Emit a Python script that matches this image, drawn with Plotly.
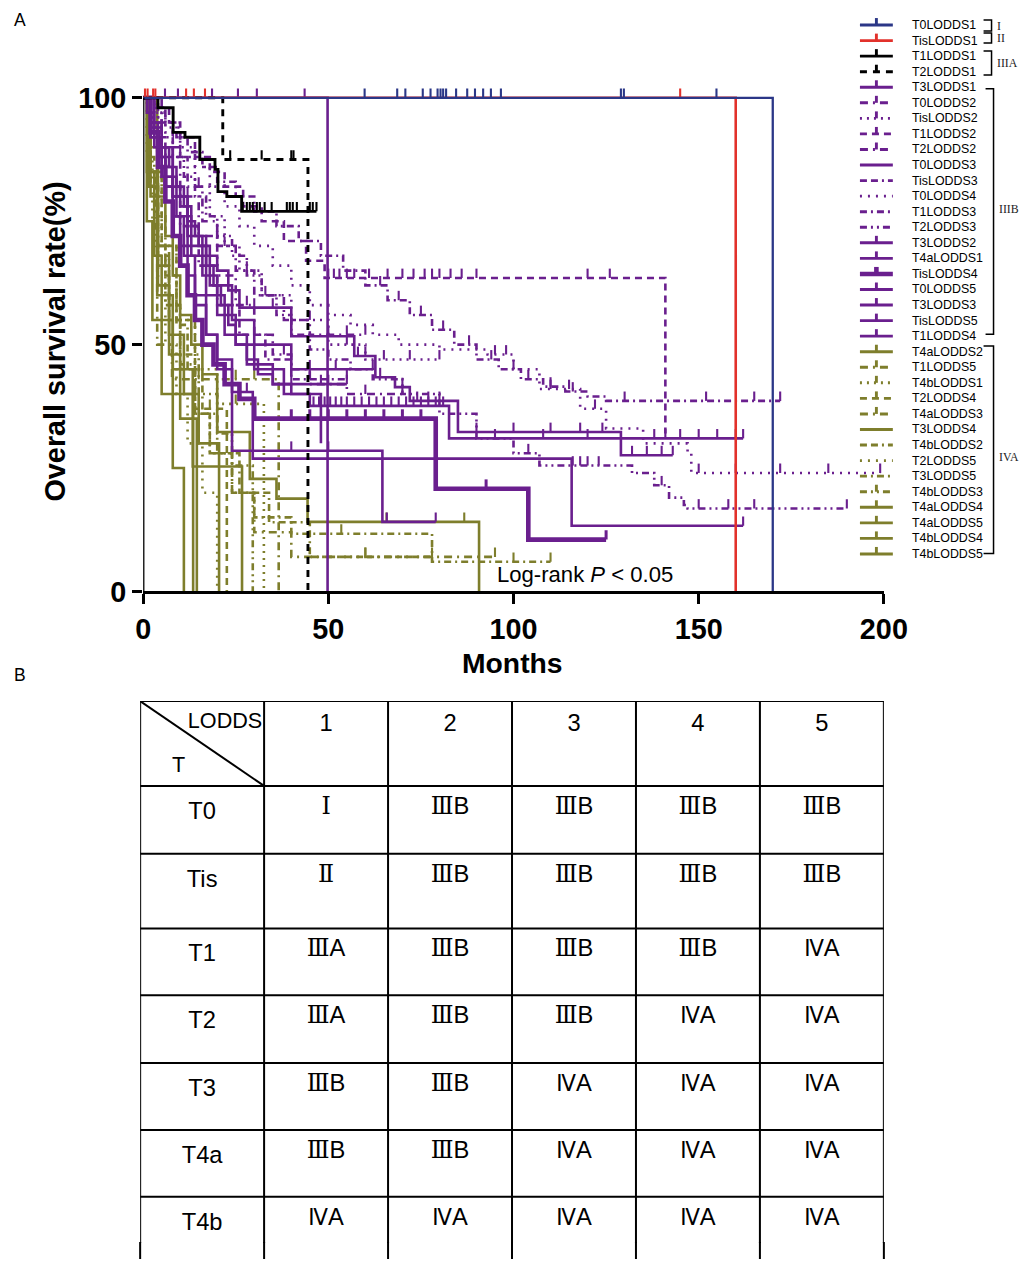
import plotly.graph_objects as go

# ---------------- data : Kaplan-Meier curves (months, survival %) ----------------
T0LODDS1_time = [170]
T0LODDS1_surv = [0]
T0LODDS1_cens = [59.8, 68.6, 70.8, 75.5, 77.6, 79.5, 80.3, 81.0, 81.8, 84.5, 87.5, 89.6, 91.8, 93.9, 96.6, 129.0, 129.8, 154.8]

TisLODDS1_time = [160]
TisLODDS1_surv = [0]
TisLODDS1_cens = [0.5, 1.2, 2.7, 3.3, 11.6, 13.7, 16.7, 145.0]

T1LODDS1_time = [4.0, 8.1, 11.3, 15.3, 19.4, 20.2, 22.6, 26.6]
T1LODDS1_surv = [98, 93, 92, 87.5, 85.5, 81, 80, 77]
T1LODDS1_cens = [26.9, 28.0, 28.8, 29.6, 30.7, 31.5, 32.8, 34.7, 38.8, 39.6, 40.4, 41.5, 45.0, 45.8, 46.8]

T2LODDS1_time = [21.5, 44.5]
T2LODDS1_surv = [87.5, 0]
T2LODDS1_cens = [23.5, 32.0, 40.0, 40.6]

T3LODDS1_time = [1, 3, 5, 7, 9, 11, 13, 15, 17, 19, 21, 23, 25, 28, 31, 35, 40, 45, 82.6]
T3LODDS1_surv = [97, 94, 90, 86, 82, 78, 74, 70, 66, 62, 58, 54, 50, 47, 44, 42, 40, 37.6, 31]
T3LODDS1_cens = [46, 47.5, 49, 50.5, 52, 53.5, 55, 57, 59, 61, 63, 65, 67, 69, 71, 73, 75, 77, 79, 81,
                 108, 120, 138, 141, 145, 150, 155, 160, 162]

T0LODDS2_time = [4, 8, 12, 16, 20, 25, 30, 38, 45]
T0LODDS2_surv = [95, 88, 82, 75, 70, 65, 60, 55, 52]
T0LODDS2_cens = [10, 22, 33, 50, 55, 60]

TisLODDS2_time = [3, 6, 10, 14, 18, 22, 26, 32, 40, 50, 60]
TisLODDS2_surv = [97, 93, 88, 82, 76, 70, 65, 60, 55, 50, 47]
TisLODDS2_cens = [15, 28, 45, 55, 65, 72, 80]

T1LODDS2_time = [3, 7, 10, 14, 18, 22, 27, 32, 38, 44, 49, 141]
T1LODDS2_surv = [98, 95, 92, 88, 85, 82, 78, 75, 71, 67, 63.5, 32]
T1LODDS2_cens = [50, 51.5, 53, 55, 57, 61, 66, 70, 73, 76, 78, 80, 83, 86, 90, 120, 126]

T2LODDS2_time = [5, 10, 15, 20, 25, 30, 35, 40, 45, 55]
T2LODDS2_surv = [90, 80, 72, 64, 58, 52, 48, 45, 42, 40]
T2LODDS2_cens = [12, 28, 38, 50, 60, 70]

T0LODDS3_time = [2, 5, 8, 12, 16, 20, 25, 30, 38, 48]
T0LODDS3_surv = [95, 88, 80, 72, 64, 56, 50, 45, 40, 30]
T0LODDS3_cens = []

TisLODDS3_time = [2, 6, 10, 15, 20, 26, 33, 40]
TisLODDS3_surv = [92, 82, 74, 66, 58, 52, 47, 43]
TisLODDS3_cens = [45, 55]

T0LODDS4_time = [3, 6, 10, 14, 18, 22, 26, 30, 35, 40, 45, 50, 56, 62, 69, 80, 93, 100, 107, 118, 125, 135, 147, 148]
T0LODDS4_surv = [97, 94, 90, 86, 82, 78, 74, 70, 66, 62, 58, 56, 54, 52, 50, 49, 48, 45, 41, 37, 33, 30, 28, 24]
T0LODDS4_cens = [95, 98, 110, 115, 122, 150, 160, 172, 185, 199]

T1LODDS3_time = [3, 6, 9, 12, 16, 20, 25, 30, 36, 42, 48, 54, 60, 66, 72, 78, 84, 90, 96, 102, 108, 114, 120, 125]
T1LODDS3_surv = [98, 95, 92, 89, 86, 83, 80, 77, 74, 71, 68, 65, 62, 59, 56, 53, 50, 47, 45, 43, 41.5, 40.5, 39.5, 38.6]
T1LODDS3_cens = [64, 69, 75, 81, 88, 94, 100, 104, 110, 116, 130, 152, 165, 172]

T2LODDS3_time = [2, 5, 8, 11, 14, 17, 20, 24, 28, 32, 36, 40, 45, 50, 56, 62, 70, 80, 90, 100, 107, 132, 138, 142, 146, 147]
T2LODDS3_surv = [96, 92, 88, 84, 80, 76, 72, 68, 64, 60, 56, 52, 49, 47, 45, 43, 40, 36, 31, 28, 25.5, 24, 21.5, 19, 17.5, 16.8]
T2LODDS3_cens = [85, 95, 104, 116, 118, 120, 123, 140, 150, 158, 165, 190]

T3LODDS2_time = [2, 4, 6, 8, 10, 12, 14, 17, 20, 23, 26, 40, 57, 62.7, 68, 72, 85, 129]
T3LODDS2_surv = [95, 90, 86, 82, 78, 75, 72, 68, 65, 61, 57.5, 51.7, 47.7, 43.4, 41.4, 38.6, 32.3, 27.6]
T3LODDS2_cens = [30, 35, 58, 60, 64, 70, 74, 77, 80, 90, 100, 110, 118, 124, 132, 136, 140, 143]

T4aLODDS1_time = [49.8]
T4aLODDS1_surv = [0]
T4aLODDS1_cens = [5.9, 9.4, 18.6, 25.6, 30.7, 43.6]

TisLODDS4_time = [2, 4, 6, 8, 10, 12, 14, 16, 19, 22, 26, 30, 79, 104]
TisLODDS4_surv = [93, 86, 79, 72, 66, 60, 55, 50, 46, 42, 39, 35, 20.8, 10.5]
TisLODDS4_cens = [40, 45, 50, 55, 60, 65, 70, 75, 92.6, 125]

T0LODDS5_time = [2, 4, 6, 8, 10, 12, 14, 17, 20, 24, 29.6, 115.7]
T0LODDS5_surv = [94, 88, 82, 76, 70, 64, 58, 52, 47, 40.4, 26.9, 13.3]
T0LODDS5_cens = [26, 28, 162]

T3LODDS3_time = [2, 5, 8, 11, 14, 17, 20, 24, 64.6]
T3LODDS3_surv = [92, 84, 76, 68, 60, 52, 45, 28.5, 14.1]
T3LODDS3_cens = [40, 50, 65.8, 79]

TisLODDS5_time = [3, 8, 12, 18, 24, 30, 40]
TisLODDS5_surv = [90, 80, 70, 62, 55, 50, 45]
TisLODDS5_cens = [45, 52, 62]

T1LODDS4_time = [2, 5, 9, 13, 17, 22, 28, 35]
T1LODDS4_surv = [92, 84, 76, 68, 60, 52, 46, 42]
T1LODDS4_cens = [40, 48, 55]

T4aLODDS2_time = [2, 4, 6, 8, 10, 13, 16, 20, 28.8, 36, 44.4, 90.7]
T4aLODDS2_surv = [90, 80, 72, 64, 56, 50, 44, 32.3, 22.8, 18.8, 14.1, 0]
T4aLODDS2_cens = [65.7, 86.7]

T1LODDS5_time = [3.8, 7.8, 36.6]
T1LODDS5_surv = [50, 43, 0]
T1LODDS5_cens = [15, 25, 30]

T4bLODDS1_time = [2, 5, 9, 14, 20, 32.6]
T4bLODDS1_surv = [85, 70, 55, 45, 38, 0]
T4bLODDS1_cens = [25]

T2LODDS4_time = [2, 5, 9, 14, 22.6]
T2LODDS4_surv = [85, 70, 55, 37, 0]
T2LODDS4_cens = [18]

T4aLODDS3_time = [2, 4, 7, 10, 14, 18, 24, 30, 40]
T4aLODDS3_surv = [85, 70, 58, 46, 36, 28, 20, 12, 7]
T4aLODDS3_cens = [60, 95]

T3LODDS4_time = [3.8, 8, 13.4, 26.7]
T3LODDS4_surv = [60, 45, 25.3, 0]
T3LODDS4_cens = []

T4bLODDS2_time = [1.5, 3, 6, 9, 12, 16, 20, 26, 34, 45]
T4bLODDS2_surv = [88, 76, 64, 54, 45, 36, 28, 20, 14, 7]
T4bLODDS2_cens = [60, 78]

T2LODDS5_time = [1, 2.5, 4, 6, 9, 12, 16, 20]
T2LODDS5_surv = [88, 75, 62, 50, 40, 30, 20, 0]
T2LODDS5_cens = []

T3LODDS5_time = [2, 4, 7, 10, 14, 18, 24, 30, 40, 78]
T3LODDS5_surv = [82, 68, 55, 45, 36, 28, 20, 15, 11.7, 6]
T3LODDS5_cens = [53.5, 100, 110]

T4bLODDS3_time = [1.5, 3.5, 6, 10, 15, 20, 24, 29.6]
T4bLODDS3_surv = [85, 70, 58, 48, 40, 32, 25.5, 0]
T4bLODDS3_cens = []

T4aLODDS4_time = [1, 3, 5, 8, 13.5]
T4aLODDS4_surv = [85, 68, 55, 40, 0]
T4aLODDS4_cens = []

T4aLODDS5_time = [2, 4, 7, 10, 14.5]
T4aLODDS5_surv = [80, 62, 48, 35, 0]
T4aLODDS5_cens = []

T4bLODDS4_time = [1.5, 4, 7, 11, 15, 20.5]
T4bLODDS4_surv = [82, 66, 52, 40, 30, 0]
T4bLODDS4_cens = []

T4bLODDS5_time = [1, 2.5, 5, 8, 11]
T4bLODDS5_surv = [75, 55, 40, 25, 0]
T4bLODDS5_cens = []

lodds_cols = ["1", "2", "3", "4", "5"]
t_rows = ["T0", "Tis", "T1", "T2", "T3", "T4a", "T4b"]
stage_table = [
    ["Ⅰ", "ⅢB", "ⅢB", "ⅢB", "ⅢB"],
    ["Ⅱ", "ⅢB", "ⅢB", "ⅢB", "ⅢB"],
    ["ⅢA", "ⅢB", "ⅢB", "ⅢB", "ⅣA"],
    ["ⅢA", "ⅢB", "ⅢB", "ⅣA", "ⅣA"],
    ["ⅢB", "ⅢB", "ⅣA", "ⅣA", "ⅣA"],
    ["ⅢB", "ⅢB", "ⅣA", "ⅣA", "ⅣA"],
    ["ⅣA", "ⅣA", "ⅣA", "ⅣA", "ⅣA"],
]

NAVY, RED, BLACK, PURPLE, OLIVE = "#2B3787", "#E2312B", "#000000", "#6A1F8E", "#7E7E2C"
D_LDOT = "8px,5px,2px,5px"
D_DOT = "2px,5px"
D_DASH = "7px,5px"
D_DDD = "7px,4px,7px,4px,2px,4px"
D_DOT2 = "2px,6px"
D_DD = "7px,4px,2px,4px"
D_D2 = "7px,4px,2px,4px,2px,4px"

g = globals()
series = [
    ("T0LODDS1", NAVY, "solid", 2.3, True),
    ("TisLODDS1", RED, "solid", 2.6, True),
    ("T1LODDS1", BLACK, "solid", 2.9, True),
    ("T2LODDS1", BLACK, "7px,6px", 2.9, True),
    ("T3LODDS1", PURPLE, "solid", 2.6, True),
    ("T0LODDS2", PURPLE, D_LDOT, 2.6, True),
    ("TisLODDS2", PURPLE, D_DOT, 2.6, True),
    ("T1LODDS2", PURPLE, D_DASH, 2.6, True),
    ("T2LODDS2", PURPLE, D_LDOT, 2.6, True),
    ("T0LODDS3", PURPLE, "solid", 2.6, False),
    ("TisLODDS3", PURPLE, D_DDD, 2.6, False),
    ("T0LODDS4", PURPLE, D_DOT2, 2.6, False),
    ("T1LODDS3", PURPLE, D_DD, 2.6, False),
    ("T2LODDS3", PURPLE, D_D2, 2.6, False),
    ("T3LODDS2", PURPLE, "solid", 2.6, True),
    ("T4aLODDS1", PURPLE, "solid", 2.6, True),
    ("TisLODDS4", PURPLE, "solid", 4.6, True),
    ("T0LODDS5", PURPLE, "solid", 2.6, True),
    ("T3LODDS3", PURPLE, "solid", 2.6, True),
    ("TisLODDS5", PURPLE, "solid", 2.6, True),
    ("T1LODDS4", PURPLE, "solid", 2.6, True),
    ("T4aLODDS2", OLIVE, "solid", 2.6, True),
    ("T1LODDS5", OLIVE, D_LDOT, 2.6, True),
    ("T4bLODDS1", OLIVE, D_DOT, 2.6, True),
    ("T2LODDS4", OLIVE, D_DASH, 2.6, True),
    ("T4aLODDS3", OLIVE, D_LDOT, 2.6, True),
    ("T3LODDS4", OLIVE, "solid", 2.6, False),
    ("T4bLODDS2", OLIVE, D_DDD, 2.6, False),
    ("T2LODDS5", OLIVE, D_DOT2, 2.6, False),
    ("T3LODDS5", OLIVE, D_DD, 2.6, False),
    ("T4bLODDS3", OLIVE, D_D2, 2.6, True),
    ("T4aLODDS4", OLIVE, "solid", 2.6, True),
    ("T4aLODDS5", OLIVE, "solid", 2.6, True),
    ("T4bLODDS4", OLIVE, "solid", 2.6, True),
    ("T4bLODDS5", OLIVE, "solid", 2.6, True),
]

# Figure placed inside the page's default 8px body margin.
# Target (picture) pixel -> page pixel, measured from a calibration render.
OFF = 8
W, H = 1033 - 2 * OFF, 1267 - 2 * OFF
SX, CX, SY = 0.9715, 7.7, 0.99
def px(x):
    return ((x - CX) / SX - OFF) / W
def py(y):
    return 1 - (y / SY - OFF) / H
def fs(s):
    return round(s / SX, 1)

fig = go.Figure()

def level_at(times, surv, t):
    lvl = 100
    for ti, si in zip(times, surv):
        if ti <= t:
            lvl = si
    return lvl

TICK_H = 1.9
for name, color, dash, width, _ in reversed(series):
    times = g[name + "_time"]
    surv = g[name + "_surv"]
    cens = g[name + "_cens"]
    end = max([times[-1]] + list(cens))
    xs = [0] + list(times) + [end]
    ys = [100] + list(surv) + [surv[-1]]
    fig.add_trace(go.Scatter(x=xs, y=ys, mode="lines", line=dict(color=color, width=width, dash=dash, shape="hv"),
                             name=name, showlegend=False, hoverinfo="skip"))
    if cens:
        cx, cy = [], []
        for c in cens:
            lv = level_at(times, surv, c)
            cx += [c, c, None]
            cy += [lv, lv + TICK_H, None]
        fig.add_trace(go.Scatter(x=cx, y=cy, mode="lines", line=dict(color=color, width=2.1 if width < 4 else 3),
                                 showlegend=False, hoverinfo="skip", cliponaxis=False))

# ---------------- table (panel B) ----------------
TABLE_TOP, TABLE_L, TABLE_R = 703, 140, 886
table_bottom = SY * (H + OFF) - TABLE_TOP   # visible height of table in picture pixels
row_edges = [0, 85, 153, 228, 295, 363, 430, 497, 564]
col_centers = [i + 0.5 for i in range(1, 6)]
lab_y = [row_edges[i + 1] + 27 for i in range(len(t_rows))]
val_y = [row_edges[i + 1] + 22 for i in range(len(t_rows))]

def fmt_stage(v):
    out = ""
    for ch in v:
        if ch in ("Ⅰ", "Ⅱ", "Ⅲ"):
            out += '<span style="font-family:DejaVu Serif">' + ch + "</span>"
        elif ch == "Ⅳ":
            out += '<span style="font-family:DejaVu Sans Condensed">' + ch + "</span>"
        else:
            out += ch
    return out

SANS = "Liberation Sans, Arial"
fig.add_trace(go.Scatter(x=col_centers, y=[24] * 5, text=lodds_cols, mode="text", xaxis="x2", yaxis="y2",
                         textfont=dict(family=SANS, size=fs(23), color="black"),
                         showlegend=False, hoverinfo="skip", cliponaxis=False))
fig.add_trace(go.Scatter(x=[0.5] * len(t_rows), y=lab_y, text=t_rows, mode="text", xaxis="x2", yaxis="y2",
                         textfont=dict(family=SANS, size=fs(23), color="black"),
                         showlegend=False, hoverinfo="skip", cliponaxis=False))
vx, vy, vt = [], [], []
for r, row in enumerate(stage_table):
    for c, v in enumerate(row):
        vx.append(col_centers[c]); vy.append(val_y[r]); vt.append(fmt_stage(v))
fig.add_trace(go.Scatter(x=vx, y=vy, text=vt, mode="text", xaxis="x2", yaxis="y2",
                         textfont=dict(family=SANS, size=fs(23), color="black"),
                         showlegend=False, hoverinfo="skip", cliponaxis=False))
fig.add_trace(go.Scatter(x=[0.985], y=[22], text=["LODDS"], mode="text", textposition="middle left", xaxis="x2", yaxis="y2",
                         textfont=dict(family=SANS, size=fs(21), color="black"),
                         showlegend=False, hoverinfo="skip", cliponaxis=False))
fig.add_trace(go.Scatter(x=[0.31], y=[66], text=["T"], mode="text", xaxis="x2", yaxis="y2",
                         textfont=dict(family=SANS, size=fs(21), color="black"),
                         showlegend=False, hoverinfo="skip", cliponaxis=False))

shapes = []
shapes.append(dict(type="line", xref="x", yref="y", x0=0, x1=0, y0=0, y1=100, line=dict(color="black", width=2.6)))
for i in range(7):
    shapes.append(dict(type="line", xref="x2", yref="y2", x0=i, x1=i, y0=0, y1=table_bottom, line=dict(color="black", width=2)))
    xe = TABLE_L + i * (TABLE_R - TABLE_L) / 6
    shapes.append(dict(type="line", xref="paper", yref="paper", x0=px(xe), x1=px(xe),
                       y0=py(TABLE_TOP + table_bottom - 1), y1=py(1267), line=dict(color="black", width=2)))
for e in row_edges[:-1]:
    shapes.append(dict(type="line", xref="x2", yref="y2", x0=0, x1=6, y0=e, y1=e, line=dict(color="black", width=2)))
shapes.append(dict(type="line", xref="x2", yref="y2", x0=0, x1=1, y0=0, y1=85, line=dict(color="black", width=2)))

annotations = []
leg_y = [25 + i * 15.6 for i in range(len(series))]
for (name, color, dash, width, tick), yy in zip(series, leg_y):
    lw = 4.6 if width > 4 else 2.9
    shapes.append(dict(type="line", xref="paper", yref="paper", x0=px(862), x1=px(895), y0=py(yy), y1=py(yy),
                       line=dict(color=color, width=lw, dash=dash)))
    if tick:
        shapes.append(dict(type="line", xref="paper", yref="paper", x0=px(878.5), x1=px(878.5), y0=py(yy), y1=py(yy - 7),
                           line=dict(color=color, width=lw)))
    annotations.append(dict(x=px(912), y=py(yy), xref="paper", yref="paper", text=name, showarrow=False,
                            xanchor="left", yanchor="middle",
                            font=dict(family=SANS, size=fs(12), color="black")))

# stage brackets (kept inside the visible right edge)
brackets = [
    ((986, 994, 20, 31), "I", 25.5),
    ((986, 994, 33, 43), "II", 38),
    ((986, 994, 51, 75), "IIIA", 63),
    ((988, 996, 89, 335), "IIIB", 209),
    ((986, 996, 347, 555), "IVA", 458),
]
for (xa, xb, ya, yb), lab, ly in brackets:
    path = "M %f,%f L %f,%f L %f,%f L %f,%f" % (px(xa), py(ya), px(xb), py(ya), px(xb), py(yb), px(xa), py(yb))
    shapes.append(dict(type="path", xref="paper", yref="paper", path=path, line=dict(color="black", width=1.5)))
    annotations.append(dict(x=px(xb + 3), y=py(ly), xref="paper", yref="paper", text=lab, showarrow=False,
                            xanchor="left", yanchor="middle",
                            font=dict(family="Liberation Serif, Times New Roman", size=fs(11.5), color="#222222")))

annotations += [
    dict(x=px(11), y=py(20), xref="paper", yref="paper", text="A", showarrow=False, xanchor="left", yanchor="middle",
         font=dict(family=SANS, size=fs(17), color="black")),
    dict(x=px(11), y=py(677), xref="paper", yref="paper", text="B", showarrow=False, xanchor="left", yanchor="middle",
         font=dict(family=SANS, size=fs(17), color="black")),
    dict(x=px(496), y=py(576), xref="paper", yref="paper", text="Log-rank <i>P</i> &lt; 0.05", showarrow=False,
         xanchor="left", yanchor="middle", font=dict(family=SANS, size=fs(21.5), color="black")),
    dict(x=px(513), y=py(665), xref="paper", yref="paper", text="<b>Months</b>", showarrow=False,
         xanchor="center", yanchor="middle", font=dict(family=SANS, size=fs(27.5), color="black")),
    dict(x=px(55), y=py(342), xref="paper", yref="paper", text="<b>Overall survival rate(%)</b>", showarrow=False,
         xanchor="center", yanchor="middle", textangle=-90, font=dict(family=SANS, size=fs(28), color="black")),
]

tickfont = dict(family=SANS, size=fs(28), color="black", weight="bold")
fig.update_layout(
    width=W, height=H, margin=dict(l=0, r=0, t=0, b=0, pad=0),
    paper_bgcolor="white", plot_bgcolor="white", showlegend=False,
    xaxis=dict(domain=[px(143), px(886)], range=[0, 200], tickvals=[0, 50, 100, 150, 200],
               ticks="outside", ticklen=10, tickwidth=2.6, tickcolor="black", showline=True, linewidth=2.6,
               linecolor="black", showgrid=False, zeroline=False, tickfont=tickfont, anchor="y", fixedrange=True),
    yaxis=dict(domain=[py(593), py(593 - 104 * 4.95)], range=[0, 104], tickvals=[0, 50, 100],
               ticks="outside", ticklen=10, tickwidth=2.6, tickcolor="black", showline=False,
               showgrid=False, zeroline=False, tickfont=tickfont, anchor="x", fixedrange=True),
    xaxis2=dict(domain=[px(TABLE_L), px(TABLE_R)], range=[0, 6], visible=False, anchor="y2", fixedrange=True),
    yaxis2=dict(domain=[0, py(TABLE_TOP)], range=[table_bottom, 0], visible=False, anchor="x2", fixedrange=True),
    shapes=shapes, annotations=annotations,
)

fig.write_html("out.html", config={"displayModeBar": False})
